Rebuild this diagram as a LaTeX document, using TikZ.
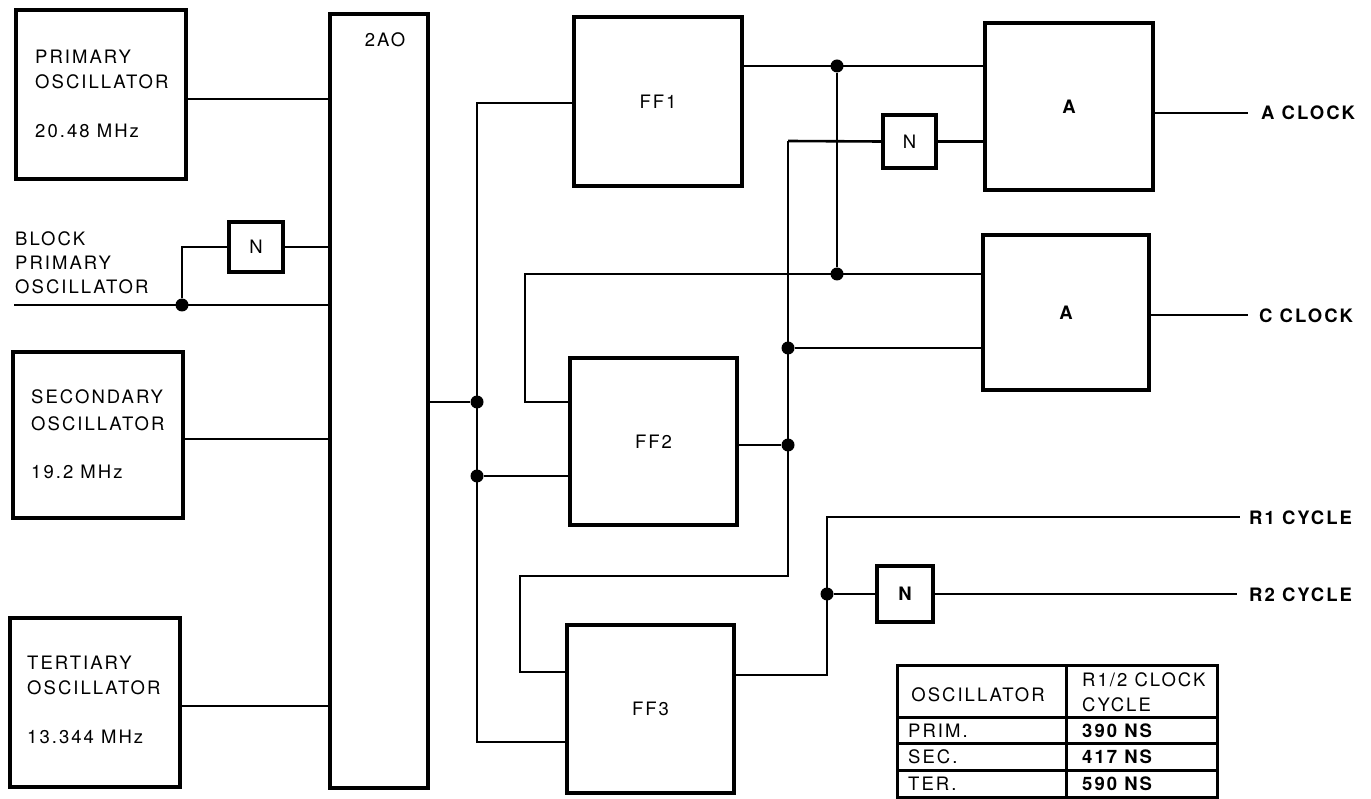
\documentclass[tikz,border=0pt]{standalone}
\usepackage{fontspec}
\setmainfont{TeX Gyre Heros}[LetterSpace=11]
\newcommand\lbl{\fontsize{18.5}{25}\selectfont}
\tikzset{
  blk/.style={draw, line width=4.2pt, inner sep=0pt, font=\lbl},
  wire/.style={line width=2.6pt},
  dot/.style={circle, fill, inner sep=0pt, minimum size=13pt},
  txt/.style={inner sep=0pt, font=\lbl},
  bold/.style={inner sep=0pt, font=\lbl\bfseries},
  tblline/.style={line width=3pt},
}
\begin{document}
\begin{tikzpicture}[x=1pt,y=-1pt]
\fill[white] (0,0) rectangle (1371,799);
\useasboundingbox (0,0) rectangle (1371,799);

% ---------------- blocks
\node[blk, minimum width=170pt, minimum height=169pt] (posc) at (101,94.5) {};
\node[txt, anchor=north west, align=left] (poscT) at (35,50) {PRIMARY\\OSCILLATOR\\[24pt]20.48 MHz};
\node[blk, minimum width=170pt, minimum height=166pt] (sosc) at (98,435) {};
\node[txt, anchor=north west, align=left, font=\fontsize{18.5}{27}\selectfont] (soscT) at (31,389) {SECONDARY\\OSCILLATOR\\[21pt]19.2 MHz};
\node[blk, minimum width=170pt, minimum height=169pt] (tosc) at (95,702.5) {};
\node[txt, anchor=north west, align=left] (toscT) at (27,656) {TERTIARY\\OSCILLATOR\\[24pt]13.344 MHz};
\node[txt, anchor=north west, align=left, font=\fontsize{18.5}{24}\selectfont] (blkT) at (15,231) {BLOCK\\PRIMARY\\OSCILLATOR};

\node[blk, minimum width=98pt, minimum height=774pt] (tao) at (379,401) {};
\node[txt] (taoT) at (385,40) {2AO};
\node[blk, minimum width=54pt, minimum height=50pt] (nblk) at (256,247) {N};

\node[blk, minimum width=168pt, minimum height=169pt] (ff1) at (658,101.5) {FF1};
\node[blk, minimum width=167pt, minimum height=167pt] (ff2) at (653.5,441.5) {FF2};
\node[blk, minimum width=167pt, minimum height=168pt] (ff3) at (650.5,709) {FF3};

\node[blk, minimum width=168pt, minimum height=167pt, font=\lbl\bfseries] (a1) at (1069,106.5) {A};
\node[blk, minimum width=166pt, minimum height=155pt, font=\lbl\bfseries] (a2) at (1066,312.5) {A};
\node[blk, minimum width=53pt, minimum height=53pt] (nA) at (909.5,141.5) {N};
\node[blk, minimum width=56pt, minimum height=56pt, font=\lbl\bfseries] (nR) at (905,594) {N};

% ---------------- left side wiring
\coordinate (yP) at (0,99);
\coordinate (yS) at (0,439);
\coordinate (yT) at (0,706);
\draw[wire] (posc.east |- yP) -- (tao.west |- yP);
\draw[wire] (sosc.east |- yS) -- (tao.west |- yS);
\draw[wire] (tosc.east |- yT) -- (tao.west |- yT);
\coordinate (bin) at (14,305);
\node[dot] (jb) at (182,305) {};
\draw[wire] (bin) -- (tao.west |- bin);
\draw[wire] (jb) |- (nblk.west);
\draw[wire] (nblk.east) -- (tao.west |- nblk.east);

% ---------------- 2AO output to flip-flops
\node[dot] (j1) at (477,402) {};
\node[dot] (j2) at (477,476) {};
\coordinate (c1) at (477,103);
\coordinate (c2) at (477,742);
\draw[wire] (tao.east |- j1) -- (j1);
\draw[wire] (ff1.west |- c1) -- (c1) -- (c2) -- (ff3.west |- c2);
\draw[wire] (j2) -- (ff2.west |- j2);

% ---------------- FF1 output
\node[dot] (j3) at (837,66) {};
\node[dot] (j4) at (837,274) {};
\coordinate (c3) at (525,274);
\coordinate (c3b) at (525,402);
\draw[wire] (ff1.east |- j3) -- (a1.west |- j3);
\draw[wire] (j3) -- (j4);
\draw[wire] (a2.west |- c3) -- (c3) -- (c3b) -- (ff2.west |- c3b);

% ---------------- FF2 output
\coordinate (c4) at (788,141);
\node[dot] (j5) at (788,348) {};
\node[dot] (j6) at (788,445) {};
\coordinate (c5) at (788,576);
\coordinate (c6) at (520,576);
\coordinate (c7) at (520,672);
\draw[wire] (c4) -- (nA.west);
\draw[wire] (nA.east) -- (a1.west |- nA.east);
\draw[wire] (j5) -- (a2.west |- j5);
\draw[wire] (ff2.east |- j6) -- (j6);
\draw[wire] (c4) -- (c5) -- (c6) -- (c7) -- (ff3.west |- c7);

% ---------------- FF3 output
\coordinate (c8) at (827,675);
\node[dot] (j7) at (827,594) {};
\coordinate (c9) at (827,517);
\coordinate (r1) at (1240,517);
\coordinate (r2) at (1237,594);
\draw[wire] (ff3.east |- c8) -- (c8) -- (c9) -- (r1);
\draw[wire] (j7) -- (nR.west);
\draw[wire] (nR.east) -- (r2);

% ---------------- outputs
\coordinate (ao) at (1248,113);
\coordinate (co) at (1248,315);
\draw[wire] (a1.east |- ao) -- (ao);
\draw[wire] (a2.east |- co) -- (co);
\node[bold, anchor=west] (aclk) at (1261,113) {A CLOCK};
\node[bold, anchor=west] (cclk) at (1259,316) {C CLOCK};
\node[bold, anchor=west] (r1cyc) at (1249,518) {R1 CYCLE};
\node[bold, anchor=west] (r2cyc) at (1249,595) {R2 CYCLE};

% ---------------- table
\draw[tblline] (897,665) rectangle (1217,797);
\draw[tblline] (1066,665) -- (1066,797);
\draw[tblline] (897,717) -- (1217,717);
\draw[tblline] (897,743) -- (1217,743);
\draw[tblline] (897,770) -- (1217,770);
\node[txt] (thA) at (978,695) {OSCILLATOR};
\node[txt, anchor=west, align=left] (thB) at (1082,692.5) {R1/2 CLOCK\\CYCLE};
\node[txt, anchor=west] (tp) at (908,731) {PRIM.};
\node[txt, anchor=west] (ts) at (908,757) {SEC.};
\node[txt, anchor=west] (tt) at (908,784) {TER.};
\node[bold, anchor=west] (vp) at (1082,731) {390 NS};
\node[bold, anchor=west] (vs) at (1082,757) {417 NS};
\node[bold, anchor=west] (vt) at (1082,784) {590 NS};
\end{tikzpicture}
\end{document}
